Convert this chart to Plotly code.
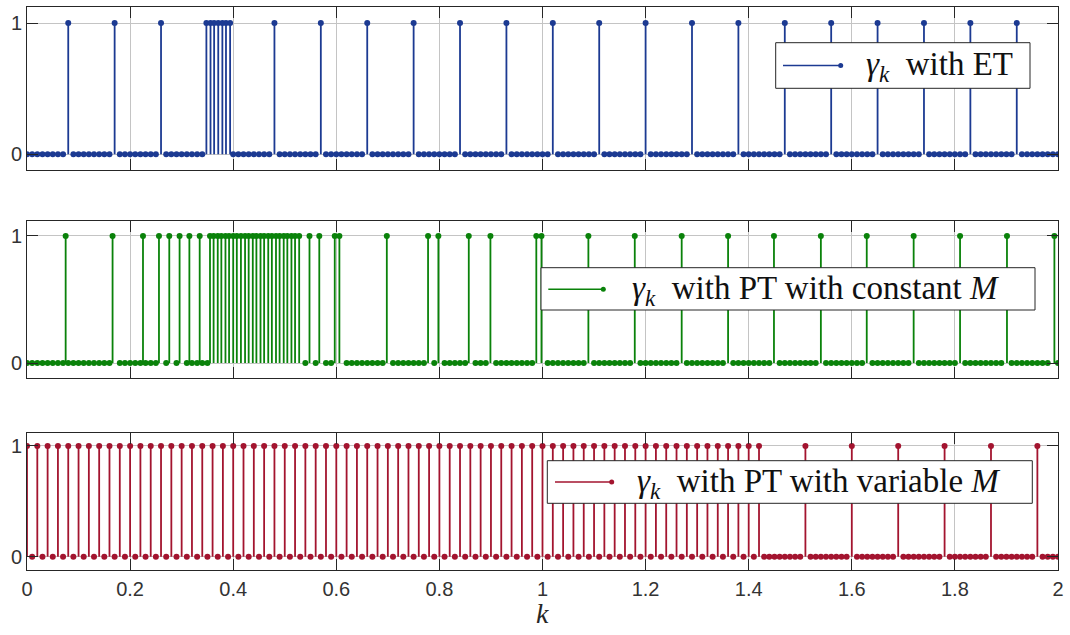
import numpy as np
import plotly.graph_objects as go

# ---------------- data ----------------
# sampling instants k (x axis)
k_samples = np.round(np.arange(0, 2.0001, 0.01), 2)

# instants where gamma_k = 1
et_events = [0.08, 0.17, 0.26,
             0.348, 0.356, 0.363, 0.371, 0.379, 0.386, 0.394,
             0.48, 0.57, 0.66, 0.75, 0.84, 0.93, 1.02, 1.11, 1.20, 1.29,
             1.38, 1.47, 1.56, 1.65, 1.74, 1.83, 1.92]

pt_const_events = [0.075, 0.166, 0.225, 0.256, 0.276, 0.296, 0.315, 0.335,
                   0.355, 0.362, 0.370, 0.377, 0.385, 0.392, 0.400, 0.407,
                   0.415, 0.423, 0.430, 0.438, 0.445, 0.453, 0.460, 0.468,
                   0.475, 0.483, 0.490, 0.498, 0.505, 0.513, 0.520, 0.528,
                   0.548, 0.567, 0.597, 0.606, 0.698, 0.778, 0.798, 0.857,
                   0.899, 0.988, 0.998, 1.089, 1.179, 1.270, 1.360, 1.449,
                   1.540, 1.629, 1.720, 1.810, 1.901, 1.993]

pt_var_events = [0.00, 0.02, 0.04, 0.06, 0.08, 0.10, 0.12, 0.14, 0.16, 0.18,
                 0.20, 0.22, 0.24, 0.26, 0.28, 0.30, 0.32, 0.34, 0.36, 0.38,
                 0.40, 0.42, 0.44, 0.46, 0.48, 0.50, 0.52, 0.54, 0.56, 0.58,
                 0.60, 0.62, 0.64, 0.66, 0.68, 0.70, 0.72, 0.74, 0.76, 0.78,
                 0.80, 0.82, 0.84, 0.86, 0.88, 0.90, 0.92, 0.94, 0.96, 0.98,
                 1.00, 1.02, 1.04, 1.06, 1.08, 1.10, 1.12, 1.14, 1.16, 1.18,
                 1.20, 1.22, 1.24, 1.26, 1.28, 1.30, 1.32, 1.34, 1.36, 1.38,
                 1.40, 1.42, 1.51, 1.60, 1.69, 1.78, 1.87, 1.96]

x_tick_vals = [0, 0.2, 0.4, 0.6, 0.8, 1.0, 1.2, 1.4, 1.6, 1.8, 2.0]
x_tick_text = ["0", "0.2", "0.4", "0.6", "0.8", "1", "1.2", "1.4", "1.6", "1.8", "2"]
y_tick_vals = [0, 1]
y_tick_text = ["0", "1"]

series_names = ["with ET", "with PT with constant <i>M</i>", "with PT with variable <i>M</i>"]
series_events = [et_events, pt_const_events, pt_var_events]
series_colors = ["#1c3a92", "#0a820a", "#a3142f"]

# ---------------- layout helpers ----------------
W, H = 1070, 635
L, R, T, B = 27, 12, 7, 65
PW, PH = W - L - R, H - T - B


def pxx(x):
    return (x - L) / PW


def pxy(y):
    return (H - B - y) / PH


# subplot pixel extents (top, bottom)
panels = [(7.3, 170.0), (220.7, 378.3), (432.7, 570.0)]
legend_boxes = [  # x0, x1, y0, y1, line x0, line x1, line y, text x
    (775.7, 1030.0, 42.7, 88.3, 783, 840.7, 65.5, 864.0),
    (541.0, 1035.0, 267.7, 310.0, 548.3, 603.3, 289.3, 630.0),
    (547.3, 1032.3, 460.7, 503.3, 555.0, 611.7, 482.0, 635.0),
]

fig = go.Figure()
shapes = []
annotations = []

for i, (events, color) in enumerate(zip(series_events, series_colors)):
    xa = "x" if i == 0 else f"x{i+1}"
    ya = "y" if i == 0 else f"y{i+1}"
    ev = np.array(events)
    zeros = [k for k in k_samples if np.min(np.abs(ev - k)) > 0.0049]
    sx, sy = [], []
    for e in events:
        sx += [e, e, None]
        sy += [0, 1, None]
    fig.add_trace(go.Scatter(x=sx, y=sy, mode="lines", xaxis=xa, yaxis=ya,
                             line=dict(color=color, width=1.8), showlegend=False,
                             hoverinfo="skip"))
    fig.add_trace(go.Scatter(x=list(events) + list(zeros),
                             y=[1] * len(events) + [0] * len(zeros),
                             mode="markers", xaxis=xa, yaxis=ya,
                             marker=dict(color=color, size=6, line=dict(width=0)),
                             showlegend=False))

    # legend box drawn by hand (MATLAB style)
    bx0, bx1, by0, by1, lx0, lx1, ly, tx = legend_boxes[i]
    shapes.append(dict(type="rect", xref="paper", yref="paper",
                       x0=pxx(bx0), x1=pxx(bx1), y0=pxy(by1), y1=pxy(by0),
                       fillcolor="white", line=dict(color="#262626", width=1),
                       layer="above"))
    shapes.append(dict(type="line", xref="paper", yref="paper",
                       x0=pxx(lx0), x1=pxx(lx1), y0=pxy(ly), y1=pxy(ly),
                       line=dict(color=color, width=1.6), layer="above"))
    shapes.append(dict(type="circle", xref="paper", yref="paper",
                       x0=pxx(lx1 - 2.5), x1=pxx(lx1 + 2.5),
                       y0=pxy(ly + 2.5), y1=pxy(ly - 2.5),
                       fillcolor=color, line=dict(color=color, width=0),
                       layer="above"))
    annotations.append(dict(xref="paper", yref="paper", x=pxx(tx), y=pxy(ly + 1),
                            xanchor="left", yanchor="middle", showarrow=False,
                            text="<i>γ</i><sub><i>k</i></sub>  " + series_names[i],
                            font=dict(family="Liberation Serif", size=33, color="#111111")))

annotations.append(dict(xref="paper", yref="paper", x=pxx(542.5), y=pxy(613),
                        xanchor="center", yanchor="middle", showarrow=False,
                        text="<i>k</i>",
                        font=dict(family="Liberation Serif", size=28, color="#262626")))

axis_common = dict(showgrid=True, gridcolor="#c4c4c4", gridwidth=1,
                   showline=True, linecolor="#262626", linewidth=1, mirror="ticks",
                   ticks="inside", ticklen=11, tickcolor="#262626", tickwidth=1,
                   zeroline=False, automargin=False,
                   tickfont=dict(family="Liberation Sans", size=20, color="#333333"))

layout = dict(width=W, height=H, margin=dict(l=L, r=R, t=T, b=B, autoexpand=False),
              paper_bgcolor="white", plot_bgcolor="white",
              shapes=shapes, annotations=annotations, showlegend=False)

for i, (top, bot) in enumerate(panels):
    xk = "xaxis" if i == 0 else f"xaxis{i+1}"
    yk = "yaxis" if i == 0 else f"yaxis{i+1}"
    yanchor = "y" if i == 0 else f"y{i+1}"
    xanchor = "x" if i == 0 else f"x{i+1}"
    layout[xk] = dict(axis_common, domain=[0, 1], range=[0, 2], anchor=yanchor,
                      tickvals=x_tick_vals, ticktext=x_tick_text,
                      showticklabels=(i == 2), ticklabelstandoff=1)
    layout[yk] = dict(axis_common, domain=[pxy(bot), pxy(top)], range=[-0.12, 1.12],
                      anchor=xanchor, tickvals=y_tick_vals, ticktext=y_tick_text)

fig.update_layout(**layout)
fig.write_html("out.html", config={"displayModeBar": False},
               post_script="document.body.style.margin='0';")
